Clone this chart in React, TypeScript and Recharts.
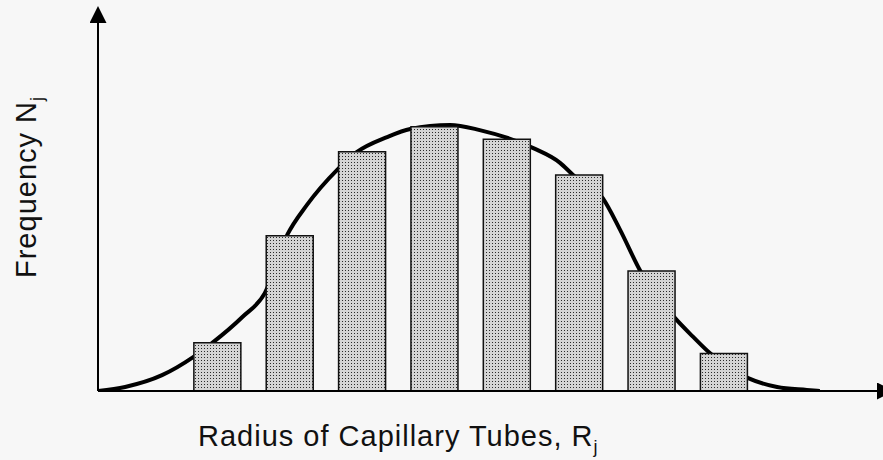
import React from 'react'
import { ComposedChart, Bar, Line, XAxis, YAxis } from 'recharts'

// bar positions (tube radius class) and their frequencies
const radiusClasses = [1, 2, 3, 4, 5, 6, 7, 8]
const frequencies = [13.1, 42.2, 65.0, 71.8, 68.4, 58.7, 32.6, 10.2]

// hand-drawn smooth distribution curve
const curveX = [
  -0.645, -0.27, 0.24, 0.67, 0.93, 1.35, 1.66, 1.97, 2.24, 2.66, 2.93, 3.35, 3.67, 4.22,
  4.63, 5.37, 5.74, 5.92, 6.33, 6.57, 6.85, 7.33, 7.58, 7.81, 8.34, 8.74, 9.15, 9.33,
]
const curveY = [
  0, 1.1, 4.3, 9.2, 13.0, 20.1, 26.6, 42.4, 50.5, 60.1, 64.9, 69.0, 71.2, 72.3,
  70.9, 66.0, 62.0, 58.7, 52.4, 43.8, 32.6, 19.8, 14.7, 10.3, 3.5, 1.1, 0.3, 0,
]

const barData = radiusClasses.map((r, i) => ({ r, freq: frequencies[i] }))
const curveData = curveX.map((r, i) => ({ r, curve: curveY[i] }))

const FONT = '"Liberation Sans", Arial, Helvetica, sans-serif'
const X_DOMAIN: [number, number] = [-0.645, 10.12]

const XLabel = ({ viewBox }: any) => {
  const { x, y } = viewBox
  return (
    <text x={x + 100} y={y + 55} fontFamily={FONT} fontSize={29} letterSpacing={1} fill="#111">
      Radius of Capillary Tubes, R
      <tspan fontSize={18} dy={7}>j</tspan>
    </text>
  )
}

const YLabel = ({ viewBox }: any) => {
  const { x } = viewBox
  const cx = x + 36
  const cy = 187
  return (
    <text
      x={cx}
      y={cy}
      transform={`rotate(-90 ${cx} ${cy})`}
      textAnchor="middle"
      fontFamily={FONT}
      fontSize={29}
      letterSpacing={1}
      fill="#111"
    >
      Frequency N
      <tspan fontSize={18} dy={7}>j</tspan>
    </text>
  )
}

export default function App() {
  return (
    <div style={{ position: 'absolute', left: 0, top: 0, width: 883, height: 460, background: '#f7f7f7' }}>
      <ComposedChart
        width={883}
        height={460}
        data={barData}
        margin={{ top: 23, right: 6, left: 0, bottom: 0 }}
      >
        <defs>
          <pattern id="stipple" width={3} height={3} patternUnits="userSpaceOnUse">
            <rect width={3} height={3} fill="#d4d4d4" />
            <rect width={1} height={1} fill="#2a2a2a" />
          </pattern>
          <marker
            id="arrow"
            markerUnits="userSpaceOnUse"
            markerWidth={17}
            markerHeight={17}
            viewBox="0 0 17 17"
            refX={0}
            refY={8.5}
            orient="auto-start-reverse"
          >
            <path d="M0,0 L17,8.5 L0,17 z" fill="#000" />
          </marker>
        </defs>
        <XAxis
          dataKey="r"
          type="number"
          domain={X_DOMAIN}
          allowDataOverflow
          tick={false}
          tickLine={false}
          height={69}
          axisLine={{ stroke: '#000', strokeWidth: 2, markerEnd: 'url(#arrow)' }}
          label={{ content: XLabel }}
        />
        {/* separate hidden axis for the curve so the bars keep their own band size */}
        <XAxis xAxisId="curve" dataKey="r" type="number" domain={X_DOMAIN} allowDataOverflow hide />
        <YAxis
          type="number"
          domain={[0, 100]}
          allowDataOverflow
          tick={false}
          tickLine={false}
          width={98}
          axisLine={{ stroke: '#000', strokeWidth: 2, markerStart: 'url(#arrow)' }}
          label={{ content: YLabel }}
        />
        <Line
          xAxisId="curve"
          data={curveData}
          dataKey="curve"
          type="monotone"
          stroke="#000"
          strokeWidth={4}
          dot={false}
          activeDot={false}
          isAnimationActive={false}
          zIndex={100}
        />
        <Bar
          dataKey="freq"
          barSize={47}
          fill="url(#stipple)"
          stroke="#111"
          strokeWidth={1.5}
          isAnimationActive={false}
          zIndex={300}
        />
      </ComposedChart>
    </div>
  )
}
